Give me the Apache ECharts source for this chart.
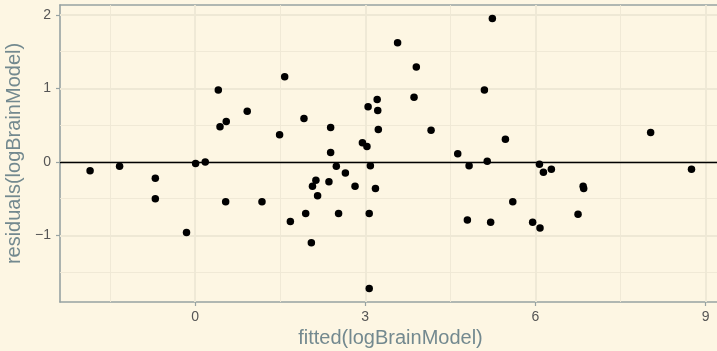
<!DOCTYPE html>
<html>
<head>
<meta charset="utf-8">
<script src="https://cdn.jsdelivr.net/npm/echarts@6/dist/echarts.min.js"></script>
<style>
  html, body { margin: 0; padding: 0; background: #FDF6E3; }
  #chart { width: 717px; height: 351px; }
</style>
</head>
<body>
<div id="chart"></div>
<script>
// Residuals against fitted values of logBrainModel
const fittedValues = [
  -1.85, -1.33, -0.70, -0.70, -0.15, 0.01, 0.18, 0.41, 0.44, 0.55,
  0.54, 0.92, 1.58, 1.49, 1.92, 2.39, 2.39, 1.18, 2.49, 2.65,
  2.13, 2.07, 2.36, 2.16, 2.82, 1.95, 1.68, 2.53, 2.05, 3.57,
  3.90, 3.86, 3.21, 3.05, 3.22, 3.23, 4.16, 2.95, 3.03, 3.09,
  3.18, 3.07, 3.07, 4.63, 4.83, 4.80, 5.10, 5.15, 5.24, 5.47,
  5.60, 5.21, 5.95, 6.08, 6.07, 6.14, 6.28, 6.84, 6.85, 6.75,
  8.03, 8.75
];
const residualValues = [
  -0.12, -0.06, -0.22, -0.50, -0.96, -0.02, 0.00, 0.98, 0.48, 0.55,
  -0.54, 0.69, 1.16, 0.37, 0.59, 0.47, 0.13, -0.54, -0.06, -0.15,
  -0.25, -0.33, -0.27, -0.46, -0.33, -0.70, -0.81, -0.70, -1.10, 1.62,
  1.29, 0.88, 0.85, 0.75, 0.70, 0.44, 0.43, 0.26, 0.21, -0.05,
  -0.36, -0.70, -1.72, 0.11, -0.05, -0.79, 0.98, 0.01, 1.95, 0.31,
  -0.54, -0.82, -0.82, -0.90, -0.03, -0.14, -0.10, -0.33, -0.36, -0.71,
  0.40, -0.10
];

const xTicks = [0, 3, 6, 9];
const yTicks = [-1, 0, 1, 2];
const xMinorGrid = [-1.5, 1.5, 4.5, 7.5];
const yMinorGrid = [-1.5, -0.5, 0.5, 1.5];
const xRange = [-2.38, 9.27];
const yRange = [-1.905, 2.135];
const referenceLevel = 0;

const points = fittedValues.map((x, i) => [x, residualValues[i]]);

const gridColor = '#EEE8D5';
const axisColor = '#97A3A3';
const fontFamily = '"Liberation Sans", Arial, Helvetica, sans-serif';
const minus = v => String(v).replace('-', '\u2212');

function gridLines(values, key, width) {
  return values.map(v => ({ [key]: v, lineStyle: { color: gridColor, width: width, type: 'solid' } }));
}

const chart = echarts.init(document.getElementById('chart'), null, { renderer: 'canvas' });

chart.setOption({
  animation: false,
  backgroundColor: '#FDF6E3',
  grid: { left: 60, top: 5, right: -4, bottom: 49, containLabel: false, outerBoundsMode: 'none' },
  xAxis: [
    {
      type: 'value',
      min: xRange[0],
      max: xRange[1],
      position: 'bottom',
      name: 'fitted(logBrainModel)',
      nameLocation: 'middle',
      nameGap: 26,
      nameTextStyle: { color: '#73898F', fontSize: 20, fontFamily: fontFamily },
      axisLine: { show: true, onZero: false, lineStyle: { color: axisColor, width: 1.6 } },
      axisTick: { show: true, length: 4, customValues: xTicks, lineStyle: { color: axisColor, width: 1.2 } },
      axisLabel: { show: true, customValues: xTicks, margin: 8, color: '#555555', fontSize: 14, fontFamily: fontFamily, formatter: minus },
      splitLine: { show: false }
    },
    {
      type: 'value',
      min: xRange[0],
      max: xRange[1],
      position: 'top',
      axisLine: { show: true, onZero: false, lineStyle: { color: axisColor, width: 1.6 } },
      axisTick: { show: false },
      axisLabel: { show: false },
      splitLine: { show: false }
    }
  ],
  yAxis: {
    type: 'value',
    min: yRange[0],
    max: yRange[1],
    name: 'residuals(logBrainModel)',
    nameLocation: 'middle',
    nameGap: 31,
    nameTextStyle: { color: '#73898F', fontSize: 20, fontFamily: fontFamily },
    axisLine: { show: true, onZero: false, lineStyle: { color: axisColor, width: 1.6 } },
    axisTick: { show: true, length: 4, customValues: yTicks, lineStyle: { color: axisColor, width: 1.2 } },
    axisLabel: { show: true, customValues: yTicks, margin: 9, color: '#555555', fontSize: 14, fontFamily: fontFamily, formatter: minus },
    splitLine: { show: false }
  },
  series: [
    {
      // panel grid: minor then major lines
      type: 'scatter',
      data: [],
      silent: true,
      markLine: {
        silent: true,
        symbol: 'none',
        label: { show: false },
        animation: false,
        data: [
          ...gridLines(xMinorGrid, 'xAxis', 0.9),
          ...gridLines(yMinorGrid, 'yAxis', 0.9),
          ...gridLines(xTicks, 'xAxis', 1.8),
          ...gridLines(yTicks, 'yAxis', 1.8)
        ]
      },
      z: 1
    },
    {
      // horizontal reference at zero residual
      type: 'scatter',
      data: [],
      silent: true,
      markLine: {
        silent: true,
        symbol: 'none',
        label: { show: false },
        animation: false,
        data: [{ yAxis: referenceLevel, lineStyle: { color: '#000000', width: 1.4, type: 'solid' } }]
      },
      z: 2
    },
    {
      type: 'scatter',
      data: points,
      symbol: 'circle',
      symbolSize: 7.5,
      itemStyle: { color: '#000000', opacity: 1 },
      zlevel: 1,
      z: 3
    }
  ]
});
</script>
</body>
</html>
